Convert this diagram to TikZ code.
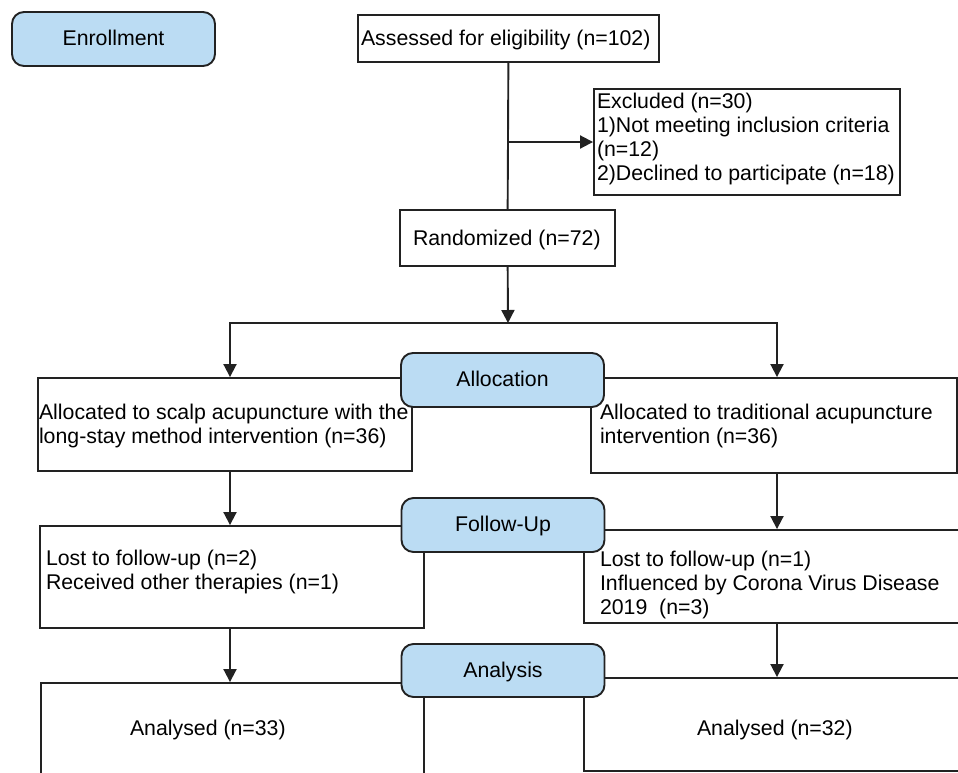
\documentclass[tikz,border=0pt]{standalone}
\usepackage{fontspec}
\setmainfont{Liberation Sans}
\usetikzlibrary{arrows.meta}
\definecolor{ink}{HTML}{222222}
\definecolor{phasefill}{HTML}{BBDCF3}
\newcommand{\flowfont}{\fontsize{21.3}{24}\selectfont}
\begin{document}
\begin{tikzpicture}[x=1pt,y=-1pt,
  box/.style={draw=ink,line width=1.9pt,fill=white,inner ysep=0pt,align=left,font=\flowfont,
    execute at begin node={\spaceskip=0pt\xspaceskip=0pt}},
  phase/.style={draw=ink,line width=1.9pt,fill=phasefill,rounded corners=12pt,
    minimum width=203pt,minimum height=54pt,inner sep=0pt,font=\flowfont,
    text height=18pt,text depth=5pt},
  arr/.style={draw=ink,line width=1.9pt,-{Triangle[length=13pt,width=13pt]}}]
  \useasboundingbox (0,0) rectangle (958,772);
  \clip (0,0) rectangle (958,772);

  \node[box,inner xsep=3pt,text width=295pt,minimum height=47pt,text height=18pt,text depth=5pt] (assess) at (508.5,38.5) {Assessed for eligibility (n=102)};
  \node[box,inner xsep=3pt,text width=300pt,minimum height=106pt,text height=9.6pt,text depth=77pt] (excl) at (747,142) {Excluded (n=30)\\1)Not meeting inclusion criteria\\(n=12)\\2)Declined to participate (n=18)};
  \node[box,inner xsep=13pt,text width=189pt,minimum height=56pt,text height=19pt,text depth=5pt] (rand) at (507.5,238) {Randomized (n=72)};

  \node[box,inner xsep=1pt,text width=372pt,minimum height=93pt,text height=18.6pt,text depth=29pt] (allocL) at (225,424.5) {Allocated to scalp acupuncture with the\\long-stay method intervention (n=36)};
  \node[box,inner xsep=9pt,text width=348pt,minimum height=95pt,text height=16.6pt,text depth=29pt] (allocR) at (774,425.5) {Allocated to traditional acupuncture\\intervention (n=36)};

  \node[box,inner xsep=6pt,text width=372pt,minimum height=102pt,text height=6.4pt,text depth=29pt] (lostL) at (232,577) {Lost to follow-up (n=2)\\Received other therapies (n=1)};
  \node[box,inner xsep=16pt,text width=352pt,minimum height=93pt,text height=33.4pt,text depth=53pt] (lostR) at (776,576.5) {Lost to follow-up (n=1)\\Influenced by Corona Virus Disease\\2019~~(n=3)};

  \node[box,inner xsep=89pt,text width=205pt,minimum height=92pt,text height=17pt,text depth=5pt] (anaL) at (232.5,729) {Analysed (n=33)};
  \node[box,inner xsep=113pt,text width=158pt,minimum height=93pt,text height=26pt,text depth=5pt] (anaR) at (776,724.5) {Analysed (n=32)};

  \node[phase] (enrol) at (113.5,39) {Enrollment};
  \node[phase] (allocation) at (502.5,380) {Allocation};
  \node[phase] (follow) at (503,525) {Follow-Up};
  \node[phase,minimum height=53pt] (analysis) at (503,670.5) {Analysis};

  \coordinate (split) at (assess.south |- excl.west);
  \coordinate (fork) at (508,323);
  \coordinate (colL) at (230,0);
  \coordinate (colR) at (777,0);

  \draw[draw=ink,line width=1.9pt] (assess) -- (rand);
  \draw[arr] (split) -- (excl);
  \draw[arr] (rand) -- (fork);
  \draw[arr] (fork) -| (allocL.north -| colL);
  \draw[arr] (fork) -| (allocR.north -| colR);
  \draw[arr] (allocL.south -| colL) -- (lostL.north -| colL);
  \draw[arr] (allocR.south -| colR) -- (lostR.north -| colR);
  \draw[arr] (lostL.south -| colL) -- (anaL.north -| colL);
  \draw[arr] (lostR.south -| colR) -- (anaR.north -| colR);
\end{tikzpicture}
\end{document}
